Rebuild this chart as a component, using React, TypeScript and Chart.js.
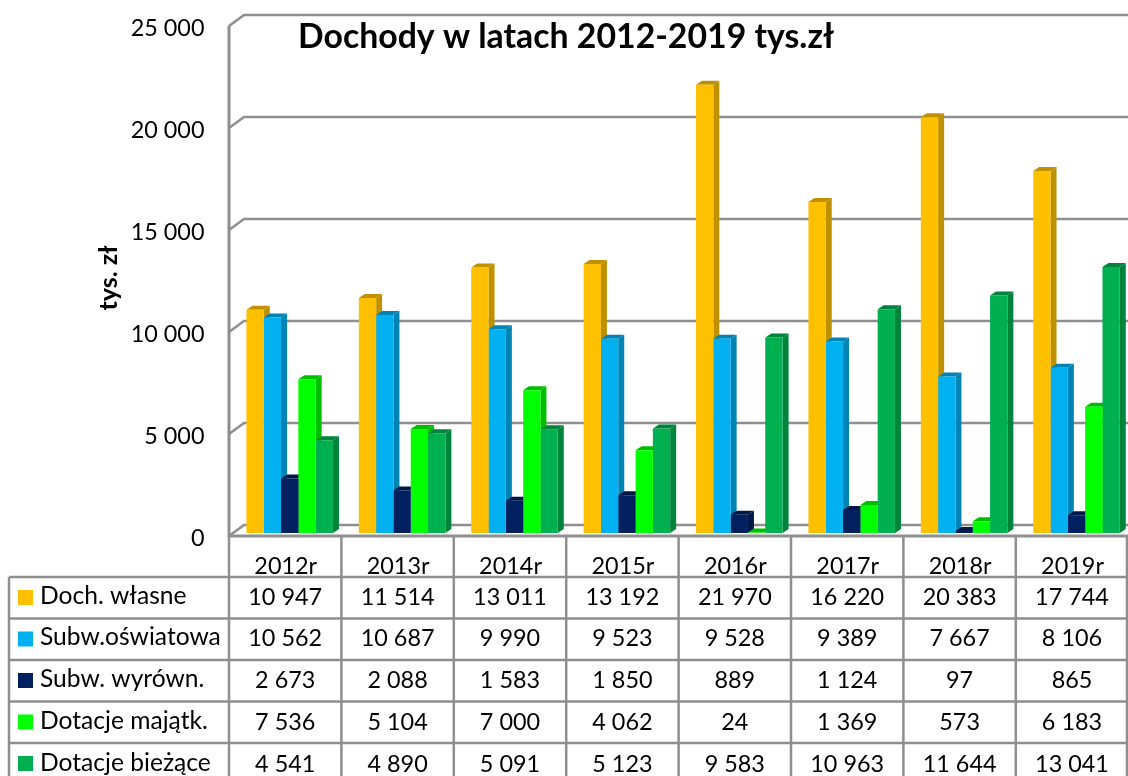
import React, { useEffect, useRef } from "react";
import { Chart, registerables } from "chart.js";

Chart.register(...registerables);

const years = ["2012r", "2013r", "2014r", "2015r", "2016r", "2017r", "2018r", "2019r"];
const seriesNames = ["Doch. własne", "Subw.oświatowa", "Subw. wyrówn.", "Dotacje majątk.", "Dotacje bieżące"];
const dochWlasne = [10947, 11514, 13011, 13192, 21970, 16220, 20383, 17744];
const subwOswiatowa = [10562, 10687, 9990, 9523, 9528, 9389, 7667, 8106];
const subwWyrown = [2673, 2088, 1583, 1850, 889, 1124, 97, 865];
const dotacjeMajatk = [7536, 5104, 7000, 4062, 24, 1369, 573, 6183];
const dotacjeBiezace = [4541, 4890, 5091, 5123, 9583, 10963, 11644, 13041];
const seriesValues = [dochWlasne, subwOswiatowa, subwWyrown, dotacjeMajatk, dotacjeBiezace];
const frontColors = ["#FFC000", "#00B0F0", "#002060", "#00FF00", "#00B050"];
const topColors = ["#BF9000", "#0084B4", "#001848", "#00BF00", "#00843C"];
const sideColors = ["#BF9000", "#0084B4", "#001848", "#00BF00", "#00843C"];

const FONT = "Lato, 'Open Sans', sans-serif";
const GRID = "#8f8f8f";
const DX = 6;
const DY = 4;
const fmt = (v: number) => String(v).replace(/\B(?=(\d{3})+$)/g, " ");

const poly = (c: CanvasRenderingContext2D, pts: number[][], fill: string) => {
  c.beginPath();
  pts.forEach((p, i) => (i ? c.lineTo(p[0], p[1]) : c.moveTo(p[0], p[1])));
  c.closePath();
  c.fillStyle = fill;
  c.fill();
};

const wallsAndDepth = {
  id: "wallsAndDepth",
  beforeDatasetsDraw(chart: any) {
    const c: CanvasRenderingContext2D = chart.ctx;
    const y = chart.scales.y;
    c.save();
    c.strokeStyle = GRID;
    c.lineWidth = 2.5;
    y.ticks.forEach((t: any) => {
      const p = y.getPixelForValue(t.value);
      c.beginPath();
      c.moveTo(229, p + 3);
      c.lineTo(244, p - 8);
      c.lineTo(1128, p - 8);
      c.stroke();
    });
    c.lineWidth = 3;
    c.beginPath();
    c.moveTo(229, y.getPixelForValue(25000) + 3);
    c.lineTo(229, y.getPixelForValue(0) + 3);
    c.lineTo(1128, y.getPixelForValue(0) + 3);
    c.stroke();
    seriesValues.forEach((_, i) => {
      chart.getDatasetMeta(i).data.forEach((b: any) => {
        const l = b.x - b.width / 2;
        const r = b.x + b.width / 2;
        poly(c, [[r, b.y], [r + DX, b.y - DY], [r + DX, b.base - DY], [r, b.base]], sideColors[i]);
        poly(c, [[l, b.y], [l + DX, b.y - DY], [r + DX, b.y - DY], [r, b.y]], topColors[i]);
      });
    });
    c.restore();
  },
};

const dataTable = {
  id: "dataTable",
  afterDraw(chart: any) {
    const c: CanvasRenderingContext2D = chart.ctx;
    const colX = years.map((_, i) => 229 + i * 112.4);
    const rowY = [577, 618.5, 660, 701.5, 743];
    const textY = [597, 638, 680, 722, 764];
    c.save();
    c.strokeStyle = GRID;
    c.lineWidth = 2.5;
    rowY.forEach((ry) => {
      c.beginPath();
      c.moveTo(9, ry);
      c.lineTo(1128, ry);
      c.stroke();
    });
    c.beginPath();
    c.moveTo(9, 577);
    c.lineTo(9, 776);
    colX.forEach((x) => {
      c.moveTo(x, 536);
      c.lineTo(x, 776);
    });
    c.moveTo(1127, 536);
    c.lineTo(1127, 776);
    c.stroke();

    c.textBaseline = "middle";
    seriesNames.forEach((n, i) => {
      c.fillStyle = frontColors[i];
      c.fillRect(18, rowY[i] + 13, 15, 15);
      c.fillStyle = "#000";
      c.textAlign = "left";
      c.font = `24.6px ${FONT}`;
      c.fillText(n, 40, textY[i] - 1);
      c.textAlign = "center";
      c.font = `23.4px ${FONT}`;
      seriesValues[i].forEach((v, j) => {
        c.fillText(fmt(v), colX[j] + 56.2, textY[i]);
      });
    });

    c.textAlign = "left";
    c.font = `bold 33.8px ${FONT}`;
    c.fillText("Dochody w latach 2012-2019 tys.zł", 298, 37);
    c.restore();
  },
};

export default function App() {
  const ref = useRef<HTMLCanvasElement>(null);
  useEffect(() => {
    const chart = new Chart(ref.current!, {
      type: "bar",
      data: {
        labels: years,
        datasets: seriesNames.map((label, i) => ({
          label,
          data: seriesValues[i],
          backgroundColor: frontColors[i],
          borderWidth: 0,
          categoryPercentage: 0.77,
          barPercentage: 1,
        })),
      },
      options: {
        responsive: false,
        animation: false,
        layout: { padding: { left: 0, right: 7.3, top: 23, bottom: 0 } },
        plugins: { legend: { display: false }, title: { display: false }, tooltip: { enabled: false } },
        scales: {
          x: {
            grid: { display: false },
            border: { display: false },
            afterFit: (s: any) => {
              s.height = 243;
              s.paddingLeft = 0;
              s.paddingRight = 0;
            },
            ticks: {
              color: "#000",
              font: { family: FONT, size: 23.4 },
              padding: 11,
              labelOffset: -4,
              maxRotation: 0,
            },
          },
          y: {
            min: 0,
            max: 25000,
            afterFit: (s: any) => {
              s.width = 233.5;
              s.paddingTop = 0;
              s.paddingBottom = 0;
            },
            grid: { display: false },
            border: { display: false },
            title: {
              display: true,
              text: "tys. zł",
              color: "#000",
              font: { family: FONT, size: 25, weight: "bold" },
              padding: { top: 94, bottom: 0 },
            },
            ticks: {
              stepSize: 5000,
              color: "#000",
              font: { family: FONT, size: 23.4 },
              padding: 21,
              labelOffset: 5,
              callback: (v: any) => fmt(Number(v)),
            },
          },
        },
      },
      plugins: [wallsAndDepth, dataTable],
    } as any);
    return () => chart.destroy();
  }, []);
  return (
    <div style={{ position: "fixed", left: 0, top: 0, width: 1128, height: 776, overflow: "hidden", background: "#fff" }}>
      <canvas ref={ref} width={1140} height={776} style={{ display: "block", width: 1140, height: 776 }} />
    </div>
  );
}
